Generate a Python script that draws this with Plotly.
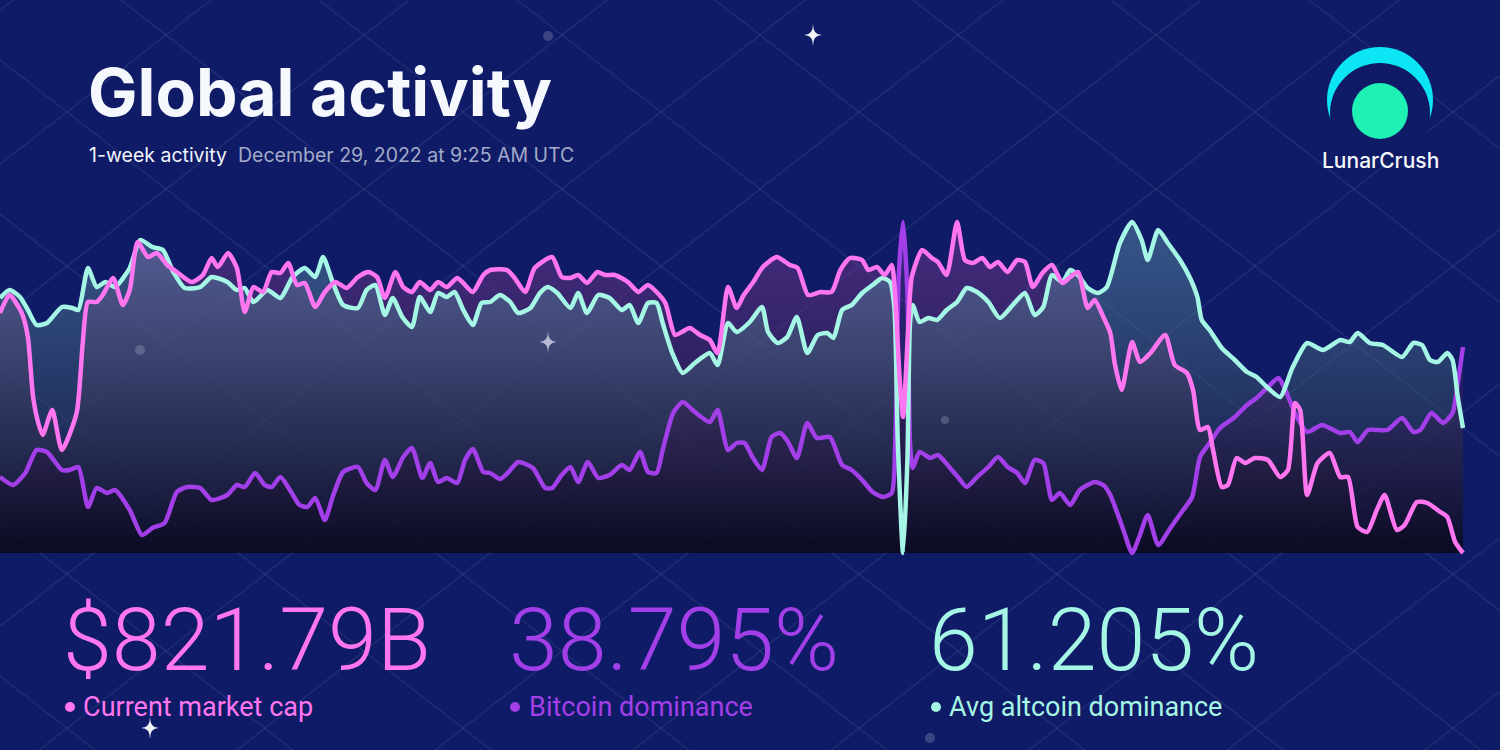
import plotly.graph_objects as go

# LunarCrush "Global activity" card - 1 week of hourly-ish readings.

mcap_hours = [
    0.0, 1.1, 2.5, 3.2, 3.8, 4.4, 4.9, 6.0, 7.1, 8.8, 9.5, 10.1, 11.1, 11.8, 13.0, 14.1, 14.9, 15.8, 17.0, 18.0,
    19.2, 20.3, 22.0, 23.3, 24.3, 25.0, 26.2, 27.2, 28.1, 29.1, 30.2, 31.2, 32.2, 33.1, 34.1, 35.0, 36.2, 37.3, 38.5, 39.8,
    41.1, 42.3,
    43.3, 44.2, 45.4, 46.3, 47.3, 48.2, 49.4, 50.3, 51.3, 52.5, 53.2, 54.3, 55.5, 56.3, 58.2, 59.1, 60.3, 61.4, 63.4, 64.5,
    65.5, 66.4, 67.4, 68.6, 69.5, 70.6, 72.1, 73.3, 74.4, 75.4, 76.4, 77.5, 78.3, 79.2, 80.4, 81.5, 82.4, 83.6, 84.6,
    85.4, 86.5, 87.6, 89.2, 90.7, 91.6, 92.8, 94.2, 95.5, 96.5, 97.6, 99.0, 99.7, 100.7, 101.6, 102.4, 102.8, 103.3, 103.7,
    104.3, 104.7, 105.9, 107.0, 107.7, 108.7, 109.9, 110.8, 111.7, 112.8, 113.7, 114.6, 115.7, 116.8, 117.7, 118.6, 119.7,
    120.8, 122.0, 122.9, 123.8, 124.9, 125.7, 126.7,
    127.5, 128.0, 128.8, 130.0, 130.9, 132.1, 133.8, 134.9, 136.3, 137.0, 137.8, 138.7, 139.3, 140.3, 141.0, 142.0, 143.0,
    144.1, 145.6, 147.0, 147.9, 148.7, 149.3, 150.1, 151.3, 152.7, 153.9, 154.8, 155.9, 157.0, 158.1, 159.0, 160.4, 161.3,
    162.7, 163.9, 165.4, 166.2, 167.1, 168.0,
]
mcap_level = [
    240, 258, 240, 216, 156, 130, 118, 143, 103, 140, 210, 251, 251, 258, 275, 248, 263, 311, 296, 300,
    288, 281, 271, 278, 295, 286, 300, 285, 241, 266, 261, 281, 280, 290, 268, 270, 246, 261, 271, 265,
    276, 281,
    276, 255, 281, 266, 261, 271, 263, 271, 266, 275, 270, 261, 278, 283, 283, 275, 261, 285, 296, 276,
    275, 278, 270, 281, 278, 278, 271, 261, 268, 261, 250, 218, 221, 225, 218, 213, 200, 266, 245,
    258, 271, 286, 296, 288, 285, 258, 261, 261, 283, 295, 293, 283, 286, 278, 288, 256, 176, 136,
    226, 276, 303, 295, 291, 278, 331, 293, 290, 295, 286, 291, 281, 293, 291, 266, 280,
    288, 270, 276, 281, 245, 253, 236,
    220, 190, 163, 211, 191, 200, 218, 188, 180, 163, 123, 126, 103, 66, 68, 95, 90,
    95, 93, 76, 83, 150, 143, 58, 90, 100, 76, 76, 26, 21, 43, 58, 23, 28,
    51, 50, 41, 36, 11, 0,
]

btc_hours = [
    0.0, 1.5, 2.9, 4.2, 5.4, 7.1, 8.0, 9.0, 10.1, 11.1, 12.3, 13.2, 14.9, 16.3, 17.5, 18.9, 20.3, 21.5, 23.0, 24.3,
    26.1, 27.2, 28.1, 29.3, 30.4, 31.2, 32.2, 33.5, 34.4, 35.3, 36.2, 37.3, 38.2, 39.4, 41.1, 42.1, 43.1,
    44.2, 45.1, 46.3, 47.3, 48.5, 49.4, 50.3, 51.3, 52.5, 53.4, 54.3, 55.5, 56.3, 57.4, 58.3, 59.5, 61.2, 62.6, 63.4,
    64.5, 65.5, 66.4, 67.5, 68.7, 70.0, 71.4, 72.3, 73.5, 74.4, 75.4, 76.1, 77.3, 78.4, 79.8, 81.5, 82.4, 83.6, 84.6, 85.5,
    86.4, 87.5, 88.6, 89.6, 90.5, 91.5, 92.7, 93.8, 95.3, 96.7, 97.8, 99.0, 100.2, 101.4, 102.4, 102.8, 103.2, 103.7,
    104.2, 104.5, 104.8, 105.6, 106.8, 107.7, 109.1, 110.0, 111.0, 112.2, 113.5, 114.6, 115.7, 116.8, 117.7, 118.8,
    119.8, 120.8, 121.7, 122.9, 124.0, 125.7, 126.7,
    127.5, 129.0, 130.0, 130.9, 131.8, 133.0, 134.4, 135.7, 136.9, 137.8, 138.9, 140.1, 141.8, 143.2, 144.3, 145.6,
    146.8, 147.6, 148.7, 150.1, 151.8, 153.9, 155.0, 155.9, 157.1, 159.3, 161.0, 162.3, 163.1, 164.4, 165.7, 166.8,
    167.4, 168.0,
]
btc_level = [
    76, 68, 80, 103, 101, 83, 83, 86, 46, 65, 60, 63, 43, 18, 25, 30, 61, 66, 65, 53,
    58, 68, 66, 80, 68, 66, 76, 60, 48, 46, 55, 33, 56, 81, 86, 70, 63,
    93, 76, 96, 105, 75, 90, 71, 75, 70, 93, 104, 81, 80, 74, 80, 91, 85, 65, 65,
    78, 86, 71, 91, 75, 78, 88, 83, 101, 81, 80, 103, 140, 151, 141, 131, 143, 103, 110, 110,
    96, 83, 116, 120, 111, 95, 130, 115, 116, 88, 83, 73, 61, 56, 60, 110, 276, 331,
    260, 110, 85, 101, 95, 98, 85, 76, 66, 76, 86, 96, 86, 80, 70, 93,
    90, 53, 60, 48, 63, 71, 68,
    58, 23, 0, 18, 38, 8, 25, 41, 56, 96, 110, 125, 136, 148, 155, 166,
    175, 163, 140, 121, 128, 120, 121, 111, 123, 123, 135, 121, 123, 140, 130, 140,
    170, 206,
]

alt_hours = [
    0.0, 1.1, 2.3, 3.2, 4.2, 5.4, 7.1, 8.3, 9.0, 10.1, 11.1, 12.1, 13.2, 14.9, 16.1, 17.5, 18.7, 19.9, 21.2, 23.0,
    24.3, 26.1, 27.2, 28.1, 29.1, 30.7, 32.2, 33.6, 35.0, 36.2, 37.1, 38.2, 39.4, 41.1, 42.1, 43.1,
    44.2, 45.1, 46.2, 47.3, 48.2, 49.4, 50.3, 51.3, 52.2, 53.2, 54.3, 55.3, 56.3, 57.4, 58.6, 59.5, 60.9, 62.0, 62.9,
    64.0, 65.5, 66.4, 67.4, 68.7, 70.0, 71.4, 72.3, 73.3, 74.4, 75.4, 76.1, 77.2, 78.4, 79.8, 81.5, 82.4, 83.6, 84.6,
    86.1, 87.5, 88.2, 89.3, 90.4, 91.5, 92.7, 93.9, 95.0, 95.7, 96.7, 97.8, 99.0, 100.2, 101.3, 102.2, 102.7, 103.1,
    103.7, 104.2, 104.5, 104.8, 105.6, 106.6, 107.6, 108.7, 109.9, 111.0, 112.2, 113.5, 114.8, 116.3, 117.7, 118.8,
    119.8, 120.8, 122.0, 122.9, 123.8, 124.9, 126.1, 127.1,
    128.6, 130.0, 131.1, 131.8, 133.0, 134.1, 135.5, 136.6, 137.5, 138.0, 138.9, 140.3, 141.8, 143.2, 144.3, 145.6,
    147.0, 148.4, 150.1, 151.9, 153.9, 155.0, 155.9, 157.3, 158.8, 161.0, 162.3, 163.3, 164.2, 165.1, 166.2, 166.8,
    167.4, 168.0,
]
alt_level = [
    255, 263, 256, 243, 228, 230, 246, 245, 243, 285, 266, 271, 266, 285, 313, 306, 303, 281, 265, 266,
    276, 271, 263, 265, 251, 263, 255, 276, 285, 276, 296, 271, 248, 245, 263, 268,
    238, 255, 236, 226, 256, 241, 260, 256, 261, 243, 228, 250, 251, 258, 251, 240, 245, 260, 266,
    260, 245, 260, 240, 258, 255, 243, 248, 230, 250, 250, 230, 200, 180, 190, 200, 188, 230, 221,
    231, 246, 221, 210, 216, 236, 200, 218, 220, 215, 243, 248, 260, 268, 275, 271, 246, 110,
    0, 93, 230, 248, 231, 235, 233, 243, 251, 265, 261, 251, 235, 248, 260, 238,
    246, 278, 271, 283, 278, 265, 260, 266,
    310, 331, 313, 293, 323, 310, 293, 276, 256, 233, 223, 205, 193, 181, 176, 165,
    156, 185, 210, 203, 213, 211, 220, 210, 208, 196, 210, 208, 193, 191, 200, 193,
    156, 125,
]

assert len(mcap_hours) == len(mcap_level)
assert len(btc_hours) == len(btc_level)
assert len(alt_hours) == len(alt_level)

headline = ["$821.79B", "38.795%", "61.205%"]
labels = ["Current market cap", "Bitcoin dominance", "Avg altcoin dominance"]

PINK = "#ff76f0"
PURPLE = "#a23fe9"
MINT = "#a6f6e5"
BG = "#0f1b66"

W, H = 1500, 750
top_level = 331


def px(x, y):
    # page pixel -> paper coords (plot area is the whole page)
    return x / W, 1 - y / H


fig = go.Figure()

# (hours, level, line colour, top colour of the fill gradient)
series = [
    (mcap_hours, mcap_level, PINK, "rgba(125,62,150,0.5)"),
    (alt_hours, alt_level, MINT, "rgba(110,165,185,0.42)"),
    (btc_hours, btc_level, PURPLE, "rgba(110,60,160,0.3)"),
]

# fills first, lines on top
for hx, lv, col, topcol in series:
    fig.add_trace(go.Scatter(
        x=hx, y=lv, mode="lines", fill="tozeroy",
        line=dict(width=0, shape="spline", smoothing=0.6),
        fillgradient=dict(type="vertical", start=0, stop=top_level,
                          colorscale=[[0, "rgba(10,9,28,0.55)"], [1, topcol]]),
        hoverinfo="skip", showlegend=False))

for hx, lv, col, topcol in [series[2], series[1], series[0]]:
    fig.add_trace(go.Scatter(
        x=hx, y=lv, mode="lines",
        line=dict(color=col, width=4.5, shape="spline", smoothing=0.6),
        hoverinfo="skip", showlegend=False))

# background lattice
shapes = []
k_slope = 0.778
for k in range(-10, 6):
    x0 = 715 + 198 * k
    a = px(x0, 0)
    b = px(x0 + H / k_slope, H)
    shapes.append(dict(type="line", xref="paper", yref="paper", x0=a[0], y0=a[1], x1=b[0], y1=b[1],
                       line=dict(color="rgba(120,140,190,0.16)", width=1.5), layer="below"))
for k in range(-6, 11):
    x0 = 805 + 198 * k
    a = px(x0, 0)
    b = px(x0 - H / k_slope, H)
    shapes.append(dict(type="line", xref="paper", yref="paper", x0=a[0], y0=a[1], x1=b[0], y1=b[1],
                       line=dict(color="rgba(120,140,190,0.16)", width=1.5), layer="below"))

# soft glows
for gx, gy, r in [(548, 36, 5), (140, 350, 5), (945, 420, 4), (930, 738, 5)]:
    a = px(gx - r, gy - r)
    b = px(gx + r, gy + r)
    shapes.append(dict(type="circle", xref="paper", yref="paper", x0=a[0], y0=b[1], x1=b[0], y1=a[1],
                       fillcolor="rgba(220,220,240,0.22)", line_width=0, layer="above"))


def sparkle(cx, cy, r, color):
    pts = [px(cx, cy - r), px(cx + r * 0.8, cy), px(cx, cy + r), px(cx - r * 0.8, cy)]
    c = px(cx, cy)
    path = "M%f,%f " % pts[0]
    for p in pts[1:] + pts[:1]:
        path += "Q%f,%f %f,%f " % (c[0], c[1], p[0], p[1])
    shapes.append(dict(type="path", xref="paper", yref="paper", path=path + "Z",
                       fillcolor=color, line_width=0, layer="above"))


sparkle(813, 35, 11, "rgba(255,255,255,0.95)")
sparkle(548, 342, 11, "rgba(225,225,240,0.75)")
sparkle(150, 728, 11, "rgba(255,255,255,0.95)")

# logo: crescent + ball
for cx, cy, r, colr in [(1380, 100, 53, "#0ce6f4"), (1380, 113, 50, BG), (1380, 111, 28, "#1ff0b4")]:
    a = px(cx - r, cy - r)
    b = px(cx + r, cy + r)
    shapes.append(dict(type="circle", xref="paper", yref="paper", x0=a[0], y0=b[1], x1=b[0], y1=a[1],
                       fillcolor=colr, line_width=0, layer="above"))

ann = []


def text(x, y, s, size, color, family="Inter", weight=400, anchor="left"):
    p = px(x, y)
    ann.append(dict(x=p[0], y=p[1], xref="paper", yref="paper", text=s, showarrow=False,
                    xanchor=anchor, yanchor="middle", borderpad=0, align="left",
                    font=dict(family=family, size=size, color=color, weight=weight)))


text(87, 92, "Global activity", 66, "#f5f8fc", weight=700)
text(88, 155, "1-week activity  <span style='color:#a3abc9'>December 29, 2022 at 9:25 AM UTC</span>",
     19.5, "#f2f4fa")
text(1380, 160, "LunarCrush", 21, "#f5f7fb", weight=500, anchor="center")

# headline figure + caption as one two-line text block per series
cols = [PINK, PURPLE, MINT]
xs = [62, 508, 928]
dots = [70, 515, 936]
for i in range(3):
    block = ("<span style='font-size:88px;font-weight:300'>%s</span><br>"
             "<span style='font-size:27px'>\u00a0\u00a0\u00a0%s</span>" % (headline[i], labels[i]))
    text(xs[i], 655, block, 35, cols[i], family="Roboto")
    a = px(dots[i] - 5, 702)
    b = px(dots[i] + 5, 712)
    shapes.append(dict(type="circle", xref="paper", yref="paper", x0=a[0], y0=b[1], x1=b[0], y1=a[1],
                       fillcolor=cols[i], line_width=0, layer="above"))

fig.update_layout(
    width=W, height=H,
    margin=dict(l=0, r=0, t=0, b=0),
    paper_bgcolor=BG, plot_bgcolor="rgba(0,0,0,0)",
    xaxis=dict(range=[0, 168 * W / 1463], visible=False, fixedrange=True),
    yaxis=dict(range=[553 - H, 553], visible=False, fixedrange=True),
    shapes=shapes, annotations=ann,
)

fig.write_html("out.html", config={"displayModeBar": False},
               post_script="document.body.style.margin='0';document.body.style.background='%s';" % BG)
